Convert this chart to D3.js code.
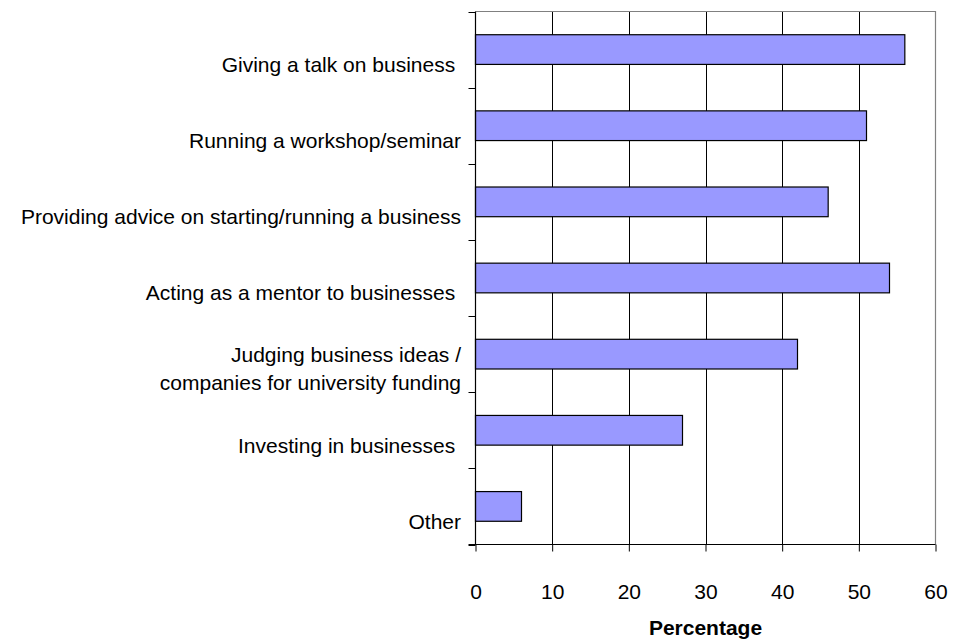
<!DOCTYPE html>
<html>
<head>
<meta charset="utf-8">
<script src="https://cdn.jsdelivr.net/npm/d3@7/dist/d3.min.js"></script>
<style>
  html, body { margin: 0; padding: 0; background: #fff; }
  svg { display: block; }
  text { font-family: "Liberation Sans", Arial, sans-serif; fill: #000; white-space: pre; }
</style>
</head>
<body>
<svg id="chart" width="958" height="644"></svg>
<script>
// Activities (top to bottom); multi-line labels use "\n"
const categories = [
  "Giving a talk on business ",
  "Running a workshop/seminar",
  "Providing advice on starting/running a business",
  "Acting as a mentor to businesses ",
  "Judging business ideas /\ncompanies for university funding",
  "Investing in businesses ",
  "Other"
];
const values = [56, 51, 46, 54, 42, 27, 6];
const xTicks = [0, 10, 20, 30, 40, 50, 60];
const xTitle = "Percentage";

const svg = d3.select("#chart");
const plotLeft = 475.5, plotRight = 935.5, plotTop = 11.5, plotBottom = 544.5;

const x = d3.scaleLinear().domain([0, 60]).range([plotLeft, plotRight]);
const y = d3.scaleBand().domain(categories).range([plotTop, plotBottom]).paddingInner(0.61).paddingOuter(0.305);
const band = d3.scaleBand().domain(categories).range([plotTop, plotBottom]);

// vertical gridlines
svg.append("g").selectAll("line").data(xTicks.filter(d => d > 0 && d < 60)).join("line")
  .attr("x1", d => Math.round(x(d)) + 0.5).attr("x2", d => Math.round(x(d)) + 0.5)
  .attr("y1", plotTop).attr("y2", plotBottom)
  .attr("stroke", "#000").attr("stroke-width", 1);

// plot area border (top and right)
svg.append("path")
  .attr("d", `M${plotLeft},${plotTop}H${plotRight}V${plotBottom}`)
  .attr("fill", "none").attr("stroke", "#808080").attr("stroke-width", 1.2);

// bars
svg.append("g").selectAll("rect").data(categories).join("rect")
  .attr("x", x(0))
  .attr("y", (d) => y(d))
  .attr("width", (d, i) => x(values[i]) - x(0))
  .attr("height", y.bandwidth())
  .attr("fill", "#9999FF")
  .attr("stroke", "#000").attr("stroke-width", 1.2);

// category axis (left)
const yAxisG = svg.append("g");
yAxisG.append("line").attr("x1", plotLeft).attr("x2", plotLeft).attr("y1", plotTop).attr("y2", plotBottom)
  .attr("stroke", "#000").attr("stroke-width", 1.2);
const boundaries = categories.map(c => band(c)).concat([plotBottom]);
yAxisG.selectAll("line.tick").data(boundaries).join("line").attr("class", "tick")
  .attr("x1", plotLeft - 7).attr("x2", plotLeft)
  .attr("y1", d => Math.round(d) + 0.5).attr("y2", d => Math.round(d) + 0.5)
  .attr("stroke", "#000").attr("stroke-width", 1);

// category labels, right-aligned, sitting slightly below each band centre
categories.forEach(c => {
  const lines = c.split("\n");
  const cy = band(c) + band.bandwidth() / 2 + 15;
  const lh = 28;
  const t = svg.append("text")
    .attr("text-anchor", "end")
    .attr("font-size", "21px");
  lines.forEach((ln, k) => {
    t.append("tspan")
      .attr("x", 461)
      .attr("y", cy + (k - (lines.length - 1) / 2) * lh)
      .attr("dy", "0.35em")
      .text(ln);
  });
});

// value axis (bottom)
const xAxis = d3.axisBottom(x).tickValues(xTicks).tickSize(7).tickPadding(33).tickSizeOuter(0);
const xg = svg.append("g").attr("transform", `translate(0,${plotBottom})`).call(xAxis);
xg.select(".domain").attr("stroke", "#000").attr("stroke-width", 1.2).attr("d", `M${plotLeft - 7},0H${plotRight}`);
xg.selectAll(".tick line").attr("stroke", "#000");
xg.selectAll(".tick text").attr("font-size", "21px").attr("font-family", "Liberation Sans, Arial, sans-serif").attr("fill", "#000");

svg.append("text")
  .attr("x", (plotLeft + plotRight) / 2).attr("y", 628).attr("dy", "0.35em")
  .attr("text-anchor", "middle").attr("font-size", "21px").attr("font-weight", "bold")
  .text(xTitle);
</script>
</body>
</html>
